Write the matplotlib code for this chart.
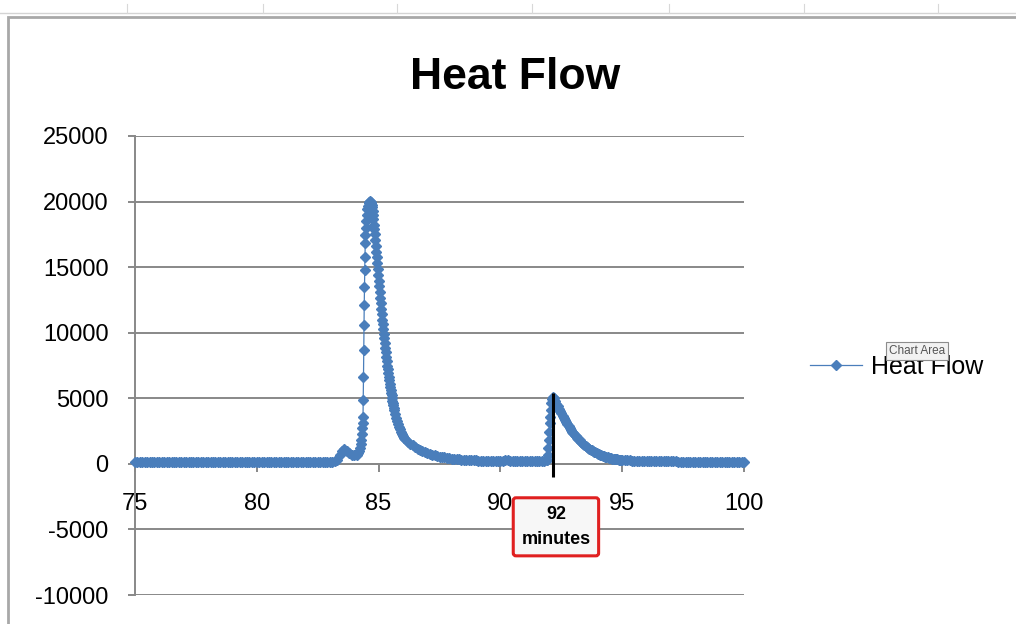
#!/usr/bin/env python3
"""Heat flow trace (Excel-style screenshot) with the 92 minute mark."""

import matplotlib
matplotlib.use("Agg")
import matplotlib.pyplot as plt
from matplotlib.patches import Rectangle
import numpy as np

plt.rcParams["font.family"] = ["Liberation Sans", "DejaVu Sans"]
plt.rcParams["axes.unicode_minus"] = False

BLUE = "#4a7ebb"
GRID = "#888888"

# flat lead-in, 75.0 .. 83.2 min every 0.1 min
lead_t = np.arange(750, 833) / 10
lead_q = [
    120, 120, 120, 120, 120, 120, 120, 120, 120, 120,
    120, 120, 120, 120, 120, 120, 120, 120, 120, 120,
    120, 120, 120, 120, 120, 120, 120, 120, 120, 120,
    120, 120, 120, 120, 120, 120, 120, 120, 120, 120,
    120, 120, 120, 120, 120, 120, 120, 120, 120, 120,
    120, 120, 120, 120, 120, 120, 120, 120, 120, 120,
    120, 120, 120, 120, 120, 120, 120, 120, 120, 120,
    120, 120, 120, 120, 120, 120, 120, 120, 125, 130,
    135, 150, 180,
]

# small shoulder and main rise up to the top
rise1_t = [
    83.3, 83.4, 83.5, 83.6, 83.7, 83.8, 83.9, 84.0, 84.1, 84.15,
    84.2, 84.23, 84.26, 84.28, 84.3, 84.32, 84.34, 84.36, 84.37, 84.38,
    84.39, 84.40, 84.41, 84.42, 84.43, 84.44, 84.45, 84.46, 84.47, 84.49,
    84.51, 84.53, 84.56, 84.59, 84.62, 84.65,
]
rise1_q = [
    300, 700, 1000, 1100, 950, 800, 700, 650, 700, 800,
    950, 1200, 1500, 1850, 2250, 2700, 3150, 3580, 4880, 6630,
    8690, 10590, 12120, 13490, 14780, 15770, 16840, 17450, 17980, 18500,
    19000, 19400, 19700, 19900, 20000, 20050,
]

# steep decay, 84.67 .. 85.65 every 0.02 min
decay1_t = np.arange(8467, 8566, 2) / 100
decay1_q = [
    20000, 19900, 19750, 19550, 19300, 19000, 18650, 18250, 17900, 17500,
    17060, 16620, 16180, 15740, 15300, 14860, 14420, 13980, 13540, 13100,
    12680, 12260, 11840, 11420, 11000, 10640, 10280, 9920, 9560, 9200,
    8860, 8520, 8180, 7840, 7500, 7220, 6940, 6660, 6380, 6100,
    5880, 5660, 5440, 5220, 5000, 4820, 4640, 4460, 4280, 4100,
]

# 85.69 .. 86.05 every 0.04 min
decay1b_t = np.arange(8569, 8606, 4) / 100
decay1b_q = [3800, 3500, 3230, 3020, 2800, 2620, 2440, 2280, 2130, 2000]

# tail, 86.1 .. 91.9 every 0.1 min
tail1_t = np.arange(861, 920) / 10
tail1_q = [
    1880, 1700, 1540, 1400, 1270, 1160, 1060, 970, 890, 820,
    760, 700, 650, 600, 560, 520, 485, 455, 425, 400,
    380, 360, 345, 330, 315, 300, 290, 280, 270, 262,
    255, 250, 245, 240, 238, 236, 236, 240, 245, 250,
    255, 260, 260, 255, 250, 245, 240, 240, 235, 235,
    230, 230, 228, 226, 225, 225, 225, 230, 260,
]

# second event
rise2_t = [91.92, 91.94, 91.96, 91.98, 92.00, 92.02, 92.04, 92.06, 92.08, 92.11, 92.15]
rise2_q = [300, 700, 1200, 1830, 2440, 3120, 3580, 4110, 4650, 4950, 5100]

# 92.20 .. 95.00 every 0.05 min
decay2_t = np.arange(9220, 9501, 5) / 100
decay2_q = [
    5050, 4820, 4600, 4400, 4200, 4020, 3850, 3670, 3500, 3330,
    3170, 3010, 2860, 2720, 2590, 2460, 2340, 2220, 2110, 2000,
    1900, 1800, 1700, 1610, 1520, 1440, 1360, 1290, 1220, 1150,
    1090, 1030, 970, 920, 870, 820, 770, 730, 690, 650,
    615, 580, 550, 520, 495, 470, 445, 425, 405, 385,
    370, 355, 340, 325, 312, 300, 290,
]

# 95.1 .. 100.0 every 0.1 min
tail2_t = np.arange(951, 1001) / 10
tail2_q = [
    280, 270, 262, 255, 248, 240, 234, 228, 222, 217,
    212, 208, 204, 200, 197, 194, 191, 188, 186, 184,
    182, 180, 178, 176, 174, 172, 171, 170, 168, 167,
    166, 165, 164, 163, 162, 161, 160, 159, 158, 157,
    156, 155, 154, 153, 152, 151, 150, 150, 150, 150,
]

y_ticks = [-10000, -5000, 0, 5000, 10000, 15000, 20000, 25000]
x_ticks = [75, 80, 85, 90, 95, 100]
mark_time = 92.15
mark_label = "92\nminutes"

time = np.concatenate([lead_t, rise1_t, decay1_t, decay1b_t, tail1_t,
                       rise2_t, decay2_t, tail2_t])
heat = np.concatenate([lead_q, rise1_q, decay1_q, decay1b_q, tail1_q,
                       rise2_q, decay2_q, tail2_q])

fig = plt.figure(figsize=(10.16, 6.24), dpi=100)

# spreadsheet strip and chart-area frame from the screenshot
fig.add_artist(plt.Line2D([0, 1], [1 - 13 / 624] * 2, color="#d4d4d4", lw=1))
for xs in [127, 263, 397, 532, 669, 804, 938]:
    fig.add_artist(plt.Line2D([xs / 1016] * 2, [1 - 4 / 624, 1 - 13 / 624],
                              color="#d8d8d8", lw=0.8))
fig.add_artist(Rectangle((8 / 1016, -0.05), 1.2, 1 - 17 / 624 + 0.05,
                         fill=False, ec="#a8a8a8", lw=2.0,
                         transform=fig.transFigure))

ax = fig.add_axes([135 / 1016, 29 / 624, 609 / 1016, 459 / 624])
ax.plot(time, heat, color=BLUE, lw=0.9, marker="D", ms=5.5, mec=BLUE,
        mfc=BLUE, label="Heat Flow", clip_on=False, zorder=3)

ax.set_xlim(75, 100)
ax.set_ylim(-10000, 25000)
ax.set_xticks(x_ticks)
ax.set_yticks(y_ticks)
ax.yaxis.grid(True, color=GRID, lw=1.4)
ax.set_axisbelow(True)

for side in ["top", "right"]:
    ax.spines[side].set_visible(False)
ax.spines["bottom"].set_position(("data", 0))
ax.spines["bottom"].set_color(GRID)
ax.spines["bottom"].set_linewidth(1.4)
ax.spines["left"].set_color(GRID)
ax.spines["left"].set_linewidth(1.4)
ax.tick_params(axis="x", direction="out", length=6, width=1.4, color=GRID,
               labelsize=17, pad=15)
ax.tick_params(axis="y", direction="out", length=5, width=1.4, color=GRID,
               labelsize=17, pad=14)

ax.vlines(mark_time, -1000, 5400, color="black", lw=2.2, zorder=5)
ax.text(mark_time + 0.13, -4800, mark_label, ha="center", va="center",
        fontsize=13, fontweight="bold", linespacing=1.6,
        family=["Liberation Sans Narrow", "Liberation Sans"],
        bbox=dict(boxstyle="round,pad=0.45,rounding_size=0.15",
                  fc="#f7f7f7", ec="#e02020", lw=2.2), zorder=6)

fig.text(515 / 1016, 1 - 89 / 624, "Heat Flow", ha="center", va="baseline",
         fontsize=32, fontweight="bold")

ax.legend(loc="center left", bbox_to_anchor=(1.108, 0.497), frameon=False,
          fontsize=18, handlelength=2.1, handletextpad=0.35,
          borderaxespad=0, borderpad=0)

fig.text(917 / 1016, 1 - 351 / 624, "Chart Area", ha="center", va="center",
         fontsize=8.5, color="#555555",
         bbox=dict(boxstyle="square,pad=0.25", fc="#f2f2f2", ec="#8c8c8c",
                   lw=0.8), zorder=10)

fig.savefig("out.png", dpi=100)
